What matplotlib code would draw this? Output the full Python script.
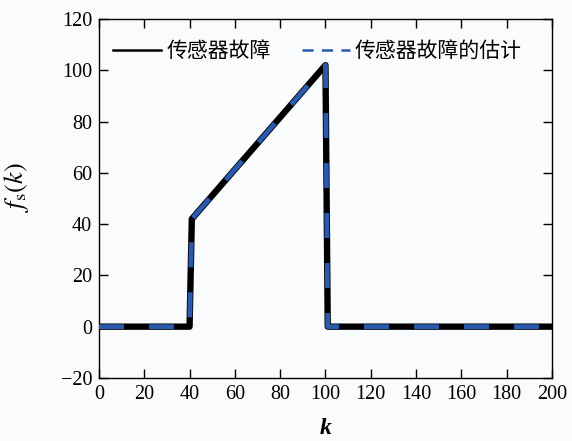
import matplotlib
matplotlib.use("Agg")
import matplotlib.pyplot as plt
from matplotlib.lines import Line2D

# data
k_fault = [0, 40, 41, 100, 101, 200]
f_fault = [0, 0, 42, 102, 0, 0]
k_est = [0, 40, 41, 100, 101, 200]
f_est = [0, 0, 42, 102, 0, 0]
xticks = [0, 20, 40, 60, 80, 100, 120, 140, 160, 180, 200]
yticks = [-20, 0, 20, 40, 60, 80, 100, 120]
labels = ["传感器故障", "传感器故障的估计"]

plt.rcParams['font.family'] = ['Liberation Serif']
plt.rcParams['mathtext.fontset'] = 'stix'
plt.rcParams['lines.scale_dashes'] = False

fig = plt.figure(figsize=(5.72, 4.41), dpi=100)
fig.patch.set_facecolor('#fafbfd')
ax = fig.add_axes([0.173, 0.143, 0.792, 0.814])
ax.set_facecolor('#fafbfd')

blue = '#2a5aad'
ax.plot(k_fault, f_fault, color='black', lw=4.6, solid_joinstyle='round',
        solid_capstyle='round', zorder=2)
ax.plot(k_est, f_est, color=blue, lw=3.4, dashes=(18, 18), zorder=3)

ax.set_xlim(0, 200)
ax.set_ylim(-20, 120)
ax.set_xticks(xticks)
ax.set_yticks(yticks)
ax.tick_params(direction='in', length=6.5, width=1, top=True, right=True,
               labelsize=14.5, pad=5)
for s in ax.spines.values():
    s.set_linewidth(1.0)

ax.set_xlabel('k', fontstyle='italic', fontweight='bold', fontsize=17, labelpad=10)
ax.set_ylabel(r'$f_{\mathrm{s}}(k)$', fontsize=19)
ax.yaxis.set_label_coords(-0.15, 0.53)

handles = [Line2D([], [], color='black', lw=1.8),
           Line2D([], [], color=blue, lw=1.8, dashes=(8, 6))]
ax.legend(handles, labels, loc='upper left', ncol=2, frameon=False,
          prop={'family': ['Noto Sans CJK SC'], 'size': 15},
          handlelength=2.3, columnspacing=1.5, handletextpad=0.25,
          bbox_to_anchor=(-0.01, 0.993), borderaxespad=0.5)

fig.savefig('out.png', dpi=100, facecolor=fig.get_facecolor())
